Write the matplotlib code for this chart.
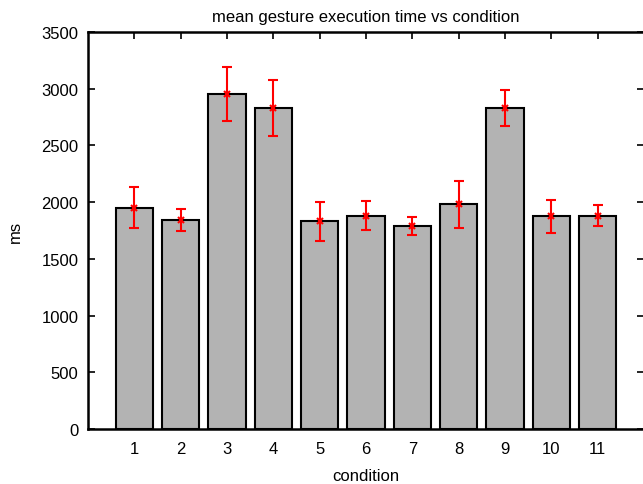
import matplotlib
matplotlib.use("Agg")
import matplotlib.pyplot as plt
import numpy as np

conditions = [1, 2, 3, 4, 5, 6, 7, 8, 9, 10, 11]
mean_ms = [1951, 1845, 2956, 2830, 1837, 1881, 1790, 1981, 2830, 1875, 1881]
err_low = [1769, 1748, 2718, 2583, 1660, 1757, 1710, 1772, 2668, 1731, 1787]
err_high = [2133, 1940, 3194, 3077, 2004, 2007, 1869, 2183, 2989, 2019, 1975]
yticks = [0, 500, 1000, 1500, 2000, 2500, 3000, 3500]

plt.rcParams['font.family'] = ['Liberation Sans', 'DejaVu Sans']

W, H = 643, 485
fig = plt.figure(figsize=(W / 100, H / 100), dpi=100)
left, right, top, bottom = 88, 644, 33, 430
ax = fig.add_axes([left / W, 1 - bottom / H, (right - left) / W, (bottom - top) / H])

ax.bar(conditions, mean_ms, width=0.8, color='#b3b3b3', edgecolor='black', linewidth=1.5, zorder=2)
m = np.array(mean_ms)
yerr = [m - np.array(err_low), np.array(err_high) - m]
ax.errorbar(conditions, mean_ms, yerr=yerr, fmt='x', color='red', ecolor='red',
            elinewidth=1.5, capsize=3.8, capthick=1.5, markersize=4, mew=1.5, zorder=3)

ax.set_xlim(0, 12)
ax.set_ylim(0, 3500)
ax.set_xticks(conditions)
ax.set_yticks(yticks)
ax.tick_params(direction='in', length=5, width=1.2, top=True, right=True,
               labelsize=12, pad=7, colors='black')
ax.tick_params(axis='x', pad=8.5)
for s in ax.spines.values():
    s.set_linewidth(1.8)

ax.set_title('mean gesture execution time vs condition', fontsize=12, pad=8)
ax.set_xlabel('condition', fontsize=12, labelpad=9)
ax.set_ylabel('ms', fontsize=12, labelpad=13)

fig.savefig('out.png', dpi=100)
